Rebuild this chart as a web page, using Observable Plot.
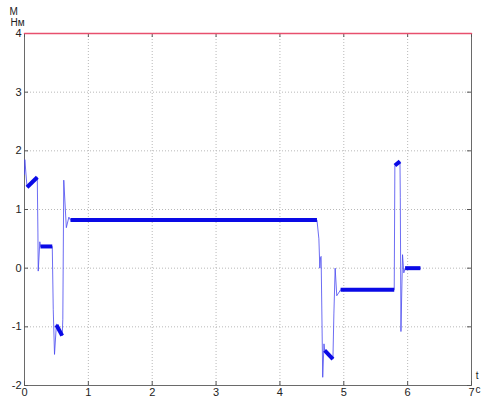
<!DOCTYPE html>
<html><head><meta charset="utf-8">
<script src="https://cdn.jsdelivr.net/npm/d3@7"></script>
<script src="https://cdn.jsdelivr.net/npm/@observablehq/plot@0.6"></script>
<style>
body{margin:0;background:#fff;}
#chart{width:485px;height:400px;}
</style></head><body><div id="chart"></div>
<script>
// axis ticks
const xTicks = [0, 1, 2, 3, 4, 5, 6, 7];
const yTicks = [-2, -1, 0, 1, 2, 3, 4];
const yLabel = ["M", "Нм"];
const xLabel = ["t", "c"];

// torque signal M (Нм) vs time t (c), thin trace
const signalT = [0, 0.005, 0.04, 0.2, 0.21, 0.215, 0.24, 0.25, 0.435, 0.45, 0.47, 0.5, 0.59, 0.6, 0.615, 0.655, 0.695, 0.72,
  4.58, 4.61, 4.625, 4.635, 4.645, 4.67, 4.69, 4.70, 4.83, 4.845, 4.865, 4.89, 4.95,
  5.79, 5.80, 5.88, 5.885, 5.895, 5.92, 5.94, 5.96, 6.2];
const signalM = [1.6, 1.85, 1.38, 1.55, 0.6, -0.05, 0.45, 0.37, 0.37, -0.7, -1.47, -0.95, -1.15, -0.87, 1.5, 0.69, 0.87, 0.82,
  0.82, 0.5, 0.0, 0.18, 0.2, -1.86, -1.29, -1.4, -1.55, -0.78, 0.0, -0.47, -0.37,
  -0.37, 1.75, 1.82, 1.2, -1.08, 0.23, -0.08, 0.0, 0.0];

// ripple bands (steady segments drawn thick)
const bandT0 = [0.04, 0.25, 0.5, 0.72, 4.70, 4.95, 5.80, 5.96];
const bandT1 = [0.2, 0.435, 0.59, 4.58, 4.83, 5.79, 5.88, 6.2];
const bandM0 = [1.38, 0.37, -0.97, 0.82, -1.4, -0.37, 1.75, 0.0];
const bandM1 = [1.55, 0.37, -1.15, 0.82, -1.55, -0.37, 1.82, 0.0];

// limit line
const limitT = [0, 7];
const limitM = [4, 4];

const signal = signalT.map((t, i) => ({t, m: signalM[i]}));
const bands = bandT0.map((t0, i) => ({t0, t1: bandT1[i], m0: bandM0[i], m1: bandM1[i]}));
const limit = limitT.map((t, i) => ({t, m: limitM[i]}));

const W = 485, H = 400, mL = 24, mR = 14, mT = 33, mB = 15;
const innerW = W - mL - mR, innerH = H - mT - mB;
const fmt = d => String(d);

const chart = Plot.plot({
  width: W, height: H,
  marginLeft: mL, marginRight: mR, marginTop: mT, marginBottom: mB,
  style: {fontFamily: "'Liberation Sans', Arial, sans-serif", fontSize: "11px", color: "#222", background: "#fff", overflow: "visible"},
  x: {domain: [0, 7], ticks: xTicks},
  y: {domain: [-2, 4], ticks: yTicks},
  marks: [
    Plot.gridX(xTicks, {stroke: "#b8b8b8", strokeOpacity: 1, strokeDasharray: "1,2"}),
    Plot.gridY(yTicks, {stroke: "#b8b8b8", strokeOpacity: 1, strokeDasharray: "1,2"}),
    Plot.axisX(xTicks, {tickSize: 0, tickPadding: 3, label: null, fill: "#222", tickFormat: fmt}),
    Plot.axisY(yTicks, {tickSize: 0, tickPadding: 3, label: null, fill: "#222", tickFormat: fmt}),
    Plot.frame({stroke: "#6a6a6a"}),
    Plot.tickX(xTicks, {x: d => d, insetTop: innerH - 4, stroke: "#555"}),
    Plot.tickX(xTicks, {x: d => d, insetBottom: innerH - 4, stroke: "#555"}),
    Plot.tickY(yTicks, {y: d => d, insetRight: innerW - 4, stroke: "#555"}),
    Plot.tickY(yTicks, {y: d => d, insetLeft: innerW - 4, stroke: "#555"}),
    Plot.line(signal, {x: "t", y: "m", stroke: "#4848f0", strokeWidth: 1, strokeOpacity: 0.8}),
    Plot.link(bands, {x1: "t0", x2: "t1", y1: "m0", y2: "m1", stroke: "#0a0ae6", strokeWidth: 4, strokeLinecap: "butt"}),
    Plot.text([yLabel[0]], {frameAnchor: "top-left", text: d => d, dx: -15, dy: -26, fill: "#222", fontSize: 10}),
    Plot.text([yLabel[1]], {frameAnchor: "top-left", text: d => d, dx: -14, dy: -15, fill: "#222", fontSize: 10}),
    Plot.text([xLabel[0]], {frameAnchor: "bottom-right", text: d => d, dx: 7, dy: -7, fill: "#222", fontSize: 10}),
    Plot.text([xLabel[1]], {frameAnchor: "bottom-right", text: d => d, dx: 9, dy: 7, fill: "#222", fontSize: 10}),
    Plot.line(limit, {x: "t", y: "m", stroke: "#e8506e", strokeWidth: 1.5})
  ]
});
document.getElementById("chart").appendChild(chart);
</script>
</body></html>
